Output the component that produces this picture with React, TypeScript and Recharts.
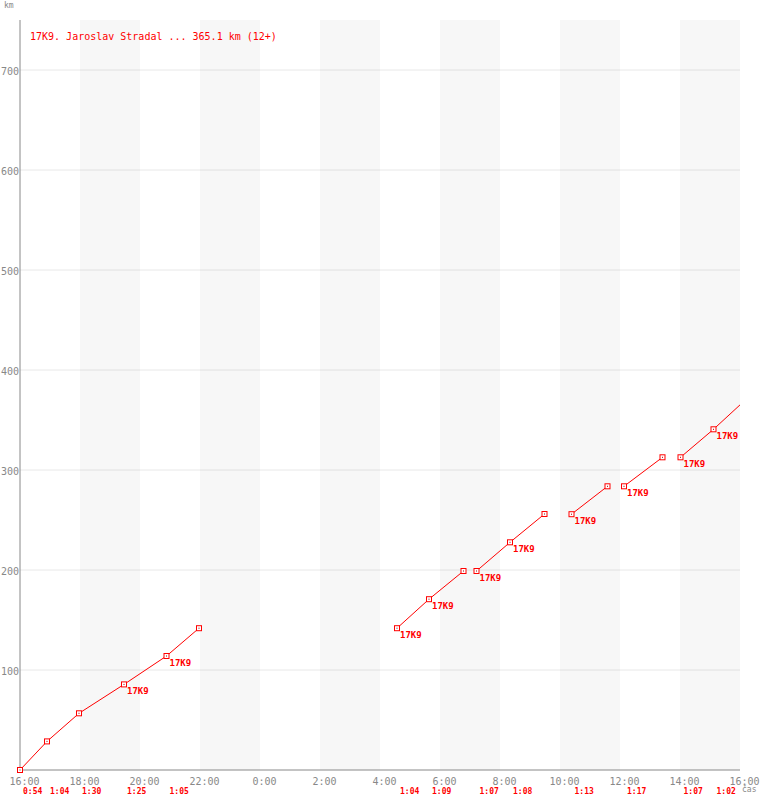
import React from 'react';
import {
  ComposedChart,
  Line,
  Scatter,
  XAxis,
  YAxis,
  CartesianGrid,
  ReferenceArea,
} from 'recharts';

const MONO = '"DejaVu Sans Mono", "Liberation Mono", monospace';
const RED = '#ff0000';
const GREY = '#888888';

// clock times of each continuous run of legs ('+' = next day)
const runTimes = [
  ['16:00', '16:54', '17:58', '19:28', '20:53', '21:58'],
  ['4:34', '5:38', '6:47'],
  ['7:13', '8:20', '9:29'],
  ['10:23', '11:35'],
  ['12:08', '13:25'],
  ['14:01', '15:07', '16:00+'],
];

// cumulative distance (km) at those times
const runKm = [
  [0, 28.6, 56.7, 85.6, 114, 141.8],
  [141.8, 170.8, 199],
  [199, 227.7, 256],
  [255.8, 283.7],
  [283.7, 312.7],
  [312.7, 340.7, 365.1],
];

// points carrying the dog's code
const taggedTimes = ['19:28', '20:53', '4:34', '5:38', '7:13', '8:20', '10:23', '12:08', '14:01', '15:07'];
const tagText = '17K9';

// leg start and leg duration shown under the axis
const legStarts = ['16:00', '16:54', '17:58', '19:28', '20:53', '4:34', '5:38', '7:13', '8:20', '10:23', '12:08', '14:01', '15:07'];
const legDurations = ['0:54', '1:04', '1:30', '1:25', '1:05', '1:04', '1:09', '1:07', '1:08', '1:13', '1:17', '1:07', '1:02'];

const xTicks = ['16:00', '18:00', '20:00', '22:00', '0:00', '2:00', '4:00', '6:00', '8:00', '10:00', '12:00', '14:00', '16:00+'];
const yTicks = [100, 200, 300, 400, 500, 600, 700];
const bandStarts = ['18:00', '22:00', '2:00', '6:00', '10:00', '14:00'];

const toMin = (s: string) => {
  const next = s.endsWith('+');
  const [h, m] = s.replace('+', '').split(':').map(Number);
  let v = h * 60 + m - 16 * 60;
  if (v < 0) v += 1440;
  if (next) v += 1440;
  return v;
};

const fmtMin = (v: number) => {
  const total = (v + 16 * 60) % 1440;
  const h = Math.floor(total / 60);
  const m = total % 60;
  return `${h}:${m < 10 ? '0' + m : m}`;
};

const runs = runTimes.map((times, i) =>
  times.map((t, j) => ({
    t: toMin(t),
    km: runKm[i][j],
    tagged: taggedTimes.includes(t),
    open: t.endsWith('+'),
  }))
);

const legs = legStarts.map((s, i) => ({ t: toMin(s), km: 0, text: legDurations[i] }));

const Marker = (props: any) => {
  const { cx, cy, payload } = props;
  if (cx == null || cy == null || payload.open) return <g />;
  return (
    <g>
      <rect x={cx - 2.5} y={cy - 2.5} width={5} height={5} fill="#fff" stroke={RED} strokeWidth={1} />
      <rect x={cx - 0.5} y={cy - 0.5} width={1} height={1} fill="#900" />
      {payload.tagged && (
        <text x={cx + 3} y={cy + 10} fill={RED} fontSize={9} fontWeight="bold" fontFamily={MONO}>
          {tagText}
        </text>
      )}
    </g>
  );
};

const DurationLabel = (props: any) => {
  const { cx, cy, payload } = props;
  if (cx == null || cy == null) return <g />;
  return (
    <text x={cx + 3} y={cy + 24} fill={RED} fontSize={8} fontWeight="bold" fontFamily={MONO}>
      {payload.text}
    </text>
  );
};

const XTick = (props: any) => {
  const { x, y, payload } = props;
  return (
    <text x={x + 4.5} y={y + 13} textAnchor="middle" fill={GREY} fontSize={10} fontFamily={MONO}>
      {fmtMin(payload.value)}
    </text>
  );
};

const YTick = (props: any) => {
  const { x, y, payload } = props;
  return (
    <text x={x} y={y + 4.5} textAnchor="end" fill={GREY} fontSize={10} fontFamily={MONO}>
      {payload.value}
    </text>
  );
};

export default function App() {
  return (
    <div style={{ position: 'absolute', left: 0, top: 0, width: 760, height: 800, background: '#fff' }}>
      <ComposedChart width={760} height={800} margin={{ top: 20, right: 20, bottom: 0, left: 0 }}>
        {bandStarts.map((b) => (
          <ReferenceArea
            key={b}
            x1={toMin(b)}
            x2={toMin(b) + 120}
            y1={0}
            y2={750}
            fill="#000"
            fillOpacity={0.03}
            stroke="none"
          />
        ))}
        <CartesianGrid vertical={false} stroke="#e8e8e8" horizontalValues={yTicks} />
        <XAxis
          type="number"
          dataKey="t"
          domain={[0, 1440]}
          ticks={xTicks.map(toMin)}
          height={30}
          stroke={GREY}
          tickLine={false}
          tickSize={0}
          tick={<XTick />}
          interval={0}
        />
        <YAxis
          type="number"
          dataKey="km"
          domain={[0, 750]}
          ticks={yTicks}
          width={20}
          stroke={GREY}
          tickLine={false}
          tickSize={0}
          tickMargin={1}
          tick={<YTick />}
          interval={0}
        />
        {runs.map((run, i) => (
          <Line
            key={i}
            data={run}
            dataKey="km"
            type="linear"
            stroke={RED}
            strokeWidth={1}
            dot={<Marker />}
            activeDot={false}
            isAnimationActive={false}
          />
        ))}
        <Scatter data={legs} dataKey="km" shape={<DurationLabel />} isAnimationActive={false} />
      </ComposedChart>
      <div style={{ position: 'absolute', left: 4, top: 1, fontFamily: MONO, fontSize: 8, color: GREY }}>km</div>
      <div style={{ position: 'absolute', left: 30, top: 31, fontFamily: MONO, fontSize: 10, color: RED, whiteSpace: 'pre' }}>
        17K9. Jaroslav Stradal ... 365.1 km (12+)
      </div>
      <div style={{ position: 'absolute', left: 742, top: 785, fontFamily: MONO, fontSize: 8, color: GREY }}>čas</div>
    </div>
  );
}
